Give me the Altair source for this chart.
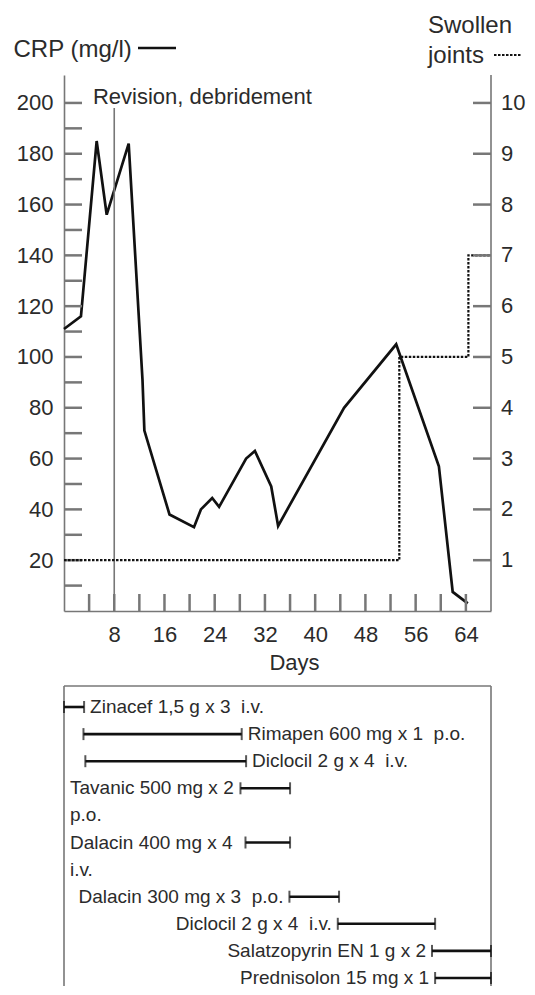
import altair as alt
import pandas as pd

# ---------------- data ----------------
crp_day = [0, 2.7, 5.2, 6.8, 10.3, 12.5, 12.8, 16.8, 20.7, 21.8, 23.6, 24.7, 29.0, 30.4, 33.0, 34.1, 44.6, 52.9, 59.7, 61.9, 64.3]
crp_val = [111, 116, 185, 156, 184, 91, 71, 38, 33, 40, 44.5, 41, 60, 63, 49, 33.5, 80, 105, 57, 7.5, 3]

joint_day = [0, 53.4, 64.4, 68]
joint_val = [1, 5, 7, 7]

x_labels = [8, 16, 24, 32, 40, 48, 56, 64]
x_ticks = [4, 8, 12, 16, 20, 24, 28, 32, 36, 40, 44, 48, 52, 56, 60, 64]
crp_labels = [20, 40, 60, 80, 100, 120, 140, 160, 180, 200]
crp_ticks = [10, 20, 30, 40, 50, 60, 70, 80, 90, 100, 110, 120, 130, 140, 150, 160, 170, 180, 190, 200]
joint_labels = [1, 2, 3, 4, 5, 6, 7, 8, 9, 10]

revision_day = 8
revision_top = 198
revision_label = "Revision, debridement"
crp_title = "CRP (mg/l)"
joint_title = ["Swollen", "joints"]

drug_ids = ["zin", "rim", "dic1", "tav", "dal4", "dal3", "dic2", "sal", "pre"]
drug_labels = [
    "Zinacef 1,5 g x 3  i.v.",
    "Rimapen 600 mg x 1  p.o.",
    "Diclocil 2 g x 4  i.v.",
    "Tavanic 500 mg x 2\np.o.",
    "Dalacin 400 mg x 4\ni.v.",
    "Dalacin 300 mg x 3  p.o.",
    "Diclocil 2 g x 4  i.v.",
    "Salatzopyrin EN 1 g x 2",
    "Prednisolon 15 mg x 1",
]
drug_start = [0, 3.1, 3.4, 28.1, 28.9, 35.9, 43.6, 58.6, 59.1]
drug_end = [3.2, 28.3, 29.0, 36.0, 36.0, 43.8, 59.1, 68, 68]

# ratio between the two y axes (right axis: 1 swollen joint = 20 mg/l)
J2CRP = 20

# ---------------- layout / style ----------------
W, H = 427, 536
HB = 300
FONT = "Liberation Sans"
TXT = "#2b2b2b"
AX = "#777777"
INK = "#111111"

x_scale = alt.Scale(domain=[0, 68], nice=False, zero=False)
y_scale = alt.Scale(domain=[0, 211], nice=False)

one = pd.DataFrame({"k": [0]})

crp_df = pd.DataFrame({"day": crp_day, "crp": crp_val})
crp_line = alt.Chart(crp_df).mark_line(color=INK, strokeWidth=2.7).encode(
    x=alt.X("day:Q", scale=x_scale, axis=alt.Axis(
        values=x_labels, tickSize=0, labelPadding=13, labelOverlap=False, grid=False,
        title="Days", titleX=230, titleY=58, titleBaseline="alphabetic", titleAlign="center")),
    y=alt.Y("crp:Q", scale=y_scale, axis=alt.Axis(
        values=crp_labels, tickSize=0, labelPadding=11, grid=False,
        title=crp_title, titleAngle=0, titleAlign="left", titleX=-51, titleY=-19,
        titleBaseline="alphabetic", titleFontSize=24)),
)

lticks = alt.Chart(pd.DataFrame({"v": crp_ticks})).mark_rule(color=AX, strokeWidth=2.5).encode(
    y=alt.Y("v:Q", scale=y_scale), x=alt.value(0), x2=alt.value(18))

xticks = alt.Chart(pd.DataFrame({"d": x_ticks})).mark_rule(color=AX, strokeWidth=2.5).encode(
    x=alt.X("d:Q", scale=x_scale), y=alt.value(H), y2=alt.value(H - 17))

rev_df = pd.DataFrame({"d": [revision_day], "y0": [0], "y1": [revision_top]})
rev_rule = alt.Chart(rev_df).mark_rule(color=AX, strokeWidth=1.6).encode(
    x=alt.X("d:Q", scale=x_scale), y=alt.Y("y0:Q", scale=y_scale), y2="y1:Q")

rev_text = alt.Chart(pd.DataFrame({"t": [revision_label]})).mark_text(
    font=FONT, fontSize=22, color=TXT, align="left", baseline="alphabetic").encode(
    x=alt.X("tx:Q", scale=x_scale), y=alt.Y("ty:Q", scale=y_scale), text="t:N"
).transform_calculate(tx="4.6", ty="199.5")

crp_leg = alt.Chart(one).mark_rule(color=INK, strokeWidth=2.7).encode(
    x=alt.value(74), x2=alt.value(112), y=alt.value(-27))

j_df = pd.DataFrame({"day": joint_day, "joints": joint_val})
j_line = alt.Chart(j_df).transform_calculate(jy=f"datum.joints * {J2CRP}").mark_line(
    color=INK, strokeWidth=2.2, strokeDash=[2.5, 1.5], interpolate="step-after").encode(
    x=alt.X("day:Q", scale=x_scale), y=alt.Y("jy:Q", scale=y_scale))

jl_df = pd.DataFrame({"j": joint_labels})
rticks = alt.Chart(jl_df).transform_calculate(jy=f"datum.j * {J2CRP}").mark_rule(
    color=AX, strokeWidth=2.5).encode(
    y=alt.Y("jy:Q", scale=y_scale), x=alt.value(W - 18), x2=alt.value(W))
rlabels = alt.Chart(jl_df).transform_calculate(jy=f"datum.j * {J2CRP}").mark_text(
    font=FONT, fontSize=22, color=TXT, align="left", baseline="middle").encode(
    y=alt.Y("jy:Q", scale=y_scale), x=alt.value(W + 10), text="j:Q")
r_domain = alt.Chart(one).mark_rule(color=AX, strokeWidth=1.6).encode(
    x=alt.X("xr:Q", scale=x_scale)).transform_calculate(xr="68")
j_title1 = alt.Chart(one).mark_text(
    font=FONT, fontSize=24, color=TXT, align="left", baseline="alphabetic").encode(
    x=alt.value(W - 63), y=alt.value(-42), text=alt.value(joint_title[0]))
j_title2 = alt.Chart(one).mark_text(
    font=FONT, fontSize=24, color=TXT, align="left", baseline="alphabetic").encode(
    x=alt.value(W - 63), y=alt.value(-12), text=alt.value(joint_title[1]))
j_leg = alt.Chart(one).mark_rule(color=INK, strokeWidth=2.2, strokeDash=[2.5, 1.5]).encode(
    x=alt.value(430), x2=alt.value(458), y=alt.value(-20))

top = alt.layer(crp_line, lticks, xticks, rev_rule, rev_text, crp_leg,
                j_line, rticks, rlabels, r_domain, j_title1, j_title2, j_leg).properties(width=W, height=H)

# ---------------- bottom panel ----------------
place_after = {"zin", "rim", "dic1"}
place_box = {"tav", "dal4"}
slots, lab_rows, bar_rows = [], [], []
for i, did in enumerate(drug_ids):
    lines = drug_labels[i].split("\n")
    place = "after" if did in place_after else ("box" if did in place_box else "before")
    for k, line in enumerate(lines):
        s = did if k == 0 else f"{did}#{k}"
        slots.append(s)
        lab_rows.append({"slot": s, "text": line.replace("  ", "\u00a0 "), "start": drug_start[i],
                         "end": drug_end[i], "place": place, "zero": 0})
    bar_rows.append({"slot": did, "start": drug_start[i], "end": drug_end[i]})

bars_df = pd.DataFrame(bar_rows)
labs_df = pd.DataFrame(lab_rows)
y_slot = alt.Scale(type="point", domain=slots, range=[21, 292], padding=0)

bars = alt.Chart(bars_df).mark_rule(color=INK, strokeWidth=2.6).encode(
    x=alt.X("start:Q", scale=x_scale, axis=None), x2="end:Q",
    y=alt.Y("slot:N", scale=y_slot, axis=None))
cap1 = alt.Chart(bars_df).mark_tick(color=INK, size=12, thickness=2).encode(
    x=alt.X("start:Q", scale=x_scale, axis=None), y=alt.Y("slot:N", scale=y_slot, axis=None))
cap2 = alt.Chart(bars_df).mark_tick(color=INK, size=12, thickness=2).encode(
    x=alt.X("end:Q", scale=x_scale, axis=None), y=alt.Y("slot:N", scale=y_slot, axis=None))

txt_after = alt.Chart(labs_df).transform_filter(alt.datum.place == "after").mark_text(
    font=FONT, fontSize=19, color=TXT, align="left", baseline="middle", dx=6).encode(
    x=alt.X("end:Q", scale=x_scale, axis=None), y=alt.Y("slot:N", scale=y_slot, axis=None), text="text:N")
txt_box = alt.Chart(labs_df).transform_filter(alt.datum.place == "box").mark_text(
    font=FONT, fontSize=19, color=TXT, align="left", baseline="middle", dx=6).encode(
    x=alt.X("zero:Q", scale=x_scale, axis=None), y=alt.Y("slot:N", scale=y_slot, axis=None), text="text:N")
txt_before = alt.Chart(labs_df).transform_filter(alt.datum.place == "before").mark_text(
    font=FONT, fontSize=19, color=TXT, align="right", baseline="middle", dx=-6).encode(
    x=alt.X("start:Q", scale=x_scale, axis=None), y=alt.Y("slot:N", scale=y_slot, axis=None), text="text:N")

border_df = pd.DataFrame({"bx": [0, 68]})
b_sides = alt.Chart(border_df).mark_rule(color=AX, strokeWidth=1.6).encode(
    x=alt.X("bx:Q", scale=x_scale, axis=None))
b_top = alt.Chart(one).mark_rule(color=AX, strokeWidth=1.6).encode(
    y=alt.value(0), x=alt.value(0), x2=alt.value(W))

bottom = alt.layer(b_sides, b_top, bars, cap1, cap2, txt_after, txt_box, txt_before).properties(
    width=W, height=HB)

chart = alt.vconcat(top, bottom, spacing=12).properties(
    padding={"left": 5, "top": 6, "right": 0, "bottom": 0}
).configure_view(stroke=None).configure_axis(
    labelFont=FONT, titleFont=FONT, labelFontSize=22, titleFontSize=22, labelColor=TXT, titleColor=TXT,
    titleFontWeight="normal", domainColor=AX, domainWidth=1.6)

chart.save("out.html", embed_options={"renderer": "svg", "actions": False})
